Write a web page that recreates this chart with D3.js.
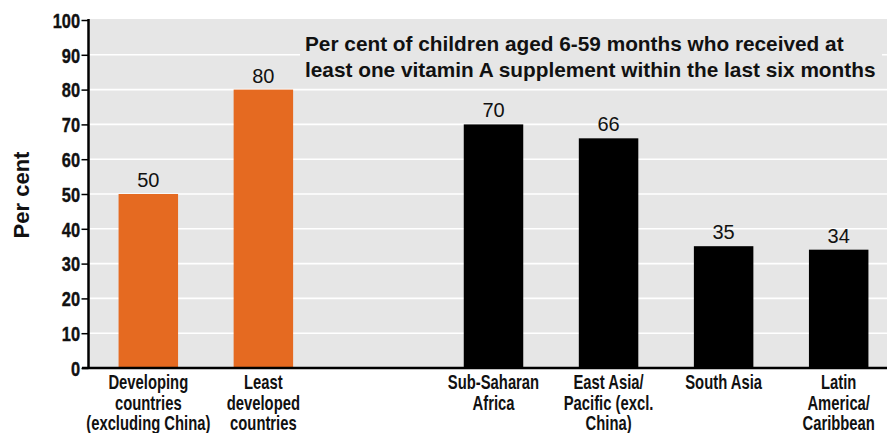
<!DOCTYPE html>
<html lang="en">

<head>
    <meta charset="UTF-8">
    <title>Vitamin A supplementation</title>
    <script src="https://d3js.org/d3.v7.min.js"></script>
    <style>
        body {
            margin: 0;
            background: #fff;
            font-family: "Liberation Sans", Arial, sans-serif;
        }

        /* the original uses a condensed bold face: squeeze Liberation Sans Bold */
        .tick-label,
        .cat-label {
            font-family: "Liberation Sans", Arial, sans-serif;
            font-weight: bold;
            fill: #111;
        }
    </style>
</head>

<body>
    <svg width="887" height="433"></svg>

    <script>
        // categories, with line breaks as drawn under the axis
        const categories = [
            "Developing countries (excluding China)",
            "Least developed countries",
            "Sub-Saharan Africa",
            "East Asia/ Pacific (excl. China)",
            "South Asia",
            "Latin America/ Caribbean"
        ];
        const labelLines = [
            ["Developing", "countries", "(excluding China)"],
            ["Least", "developed", "countries"],
            ["Sub-Saharan", "Africa"],
            ["East Asia/", "Pacific (excl.", "China)"],
            ["South Asia"],
            ["Latin", "America/", "Caribbean"]
        ];
        const values = [50, 80, 70, 66, 35, 34];
        const groups = ["aggregate", "aggregate", "region", "region", "region", "region"];
        const yTicks = [0, 10, 20, 30, 40, 50, 60, 70, 80, 90, 100];
        const titleLines = [
            "Per cent of children aged 6-59 months who received at",
            "least one vitamin A supplement within the last six months"
        ];

        const data = categories.map((c, i) => ({
            name: c, value: values[i], group: groups[i], lines: labelLines[i]
        }));

        const svg = d3.select("svg");
        const margin = { left: 89, right: 887, top: 19, bottom: 368 };

        // empty slot between the two groups of bars
        const slots = [categories[0], categories[1], "__gap__", ...categories.slice(2)];

        const x = d3.scaleBand()
            .domain(slots)
            .range([margin.left, 898])
            .paddingInner(0.483)
            .paddingOuter(0.257);

        const y = d3.scaleLinear()
            .domain([0, 100])
            .range([margin.bottom, 20]);

        const color = d3.scaleOrdinal()
            .domain(["aggregate", "region"])
            .range(["#e56a21", "#000000"]);

        // plot background
        svg.append("rect")
            .attr("x", margin.left)
            .attr("y", margin.top)
            .attr("width", margin.right - margin.left)
            .attr("height", margin.bottom - margin.top)
            .attr("fill", "#e6e6e6");

        // grid lines
        svg.append("g")
            .selectAll("line")
            .data(yTicks.filter(d => d > 0 && d < 100))
            .enter().append("line")
            .attr("x1", margin.left)
            .attr("x2", margin.right)
            .attr("y1", d => y(d))
            .attr("y2", d => y(d))
            .attr("stroke", "#fff")
            .attr("stroke-width", 1.6);

        // title box hides the grid behind it
        const title = svg.append("g");
        title.append("rect")
            .attr("x", 300)
            .attr("y", 28)
            .attr("width", 582)
            .attr("height", 56)
            .attr("fill", "#e6e6e6");
        title.selectAll("text")
            .data(titleLines)
            .enter().append("text")
            .attr("x", 305)
            .attr("y", (d, i) => 51 + i * 26)
            .attr("font-size", "20.8px")
            .attr("font-weight", "bold")
            .attr("fill", "#111")
            .text(d => d);

        // bars
        svg.selectAll(".bar")
            .data(data)
            .enter().append("rect")
            .attr("class", "bar")
            .attr("x", d => x(d.name))
            .attr("y", d => y(d.value))
            .attr("width", x.bandwidth())
            .attr("height", d => y(0) - y(d.value))
            .attr("fill", d => color(d.group));

        // value labels
        svg.selectAll(".val")
            .data(data)
            .enter().append("text")
            .attr("class", "val")
            .attr("x", d => x(d.name) + x.bandwidth() / 2)
            .attr("y", d => y(d.value) - 7)
            .attr("text-anchor", "middle")
            .attr("font-size", "20px")
            .attr("fill", "#111")
            .text(d => d.value);

        // y axis
        const tickSqueeze = 0.8;
        const yAxis = svg.append("g")
            .attr("transform", `translate(${margin.left - 0.5},0)`)
            .call(d3.axisLeft(y).tickValues(yTicks).tickSize(7));
        yAxis.select(".domain")
            .attr("stroke", "#000")
            .attr("stroke-width", 2.5)
            .attr("d", `M0,${margin.top}V${margin.bottom}`);
        yAxis.selectAll(".tick line")
            .attr("stroke", "#000")
            .attr("stroke-width", 1.5);
        yAxis.selectAll(".tick text")
            .attr("class", "tick-label")
            .attr("font-size", "20.5px")
            .attr("x", -8.5 / tickSqueeze)
            .attr("dy", "0.36em")
            .attr("stroke", "#111")
            .attr("stroke-width", 0.4)
            .attr("transform", `scale(${tickSqueeze},1)`);

        // baseline
        svg.append("line")
            .attr("x1", margin.left - 7)
            .attr("x2", margin.right)
            .attr("y1", y(0))
            .attr("y2", y(0))
            .attr("stroke", "#000")
            .attr("stroke-width", 2.5);

        // y axis title
        svg.append("text")
            .attr("transform", `translate(29,195) rotate(-90)`)
            .attr("text-anchor", "middle")
            .attr("font-size", "22px")
            .attr("font-weight", "bold")
            .attr("fill", "#111")
            .text("Per cent");

        // category labels
        const catSqueeze = 0.76;
        const cat = svg.selectAll(".cat")
            .data(data)
            .enter().append("text")
            .attr("class", "cat-label")
            .attr("text-anchor", "middle")
            .attr("font-size", "19.5px")
            .attr("transform", d => `translate(${x(d.name) + x.bandwidth() / 2},0) scale(${catSqueeze},1)`);
        cat.selectAll("tspan")
            .data(d => d.lines)
            .enter().append("tspan")
            .attr("x", 0)
            .attr("y", (d, i) => 389.5 + i * 20.5)
            .text(d => d);
    </script>
</body>

</html>
